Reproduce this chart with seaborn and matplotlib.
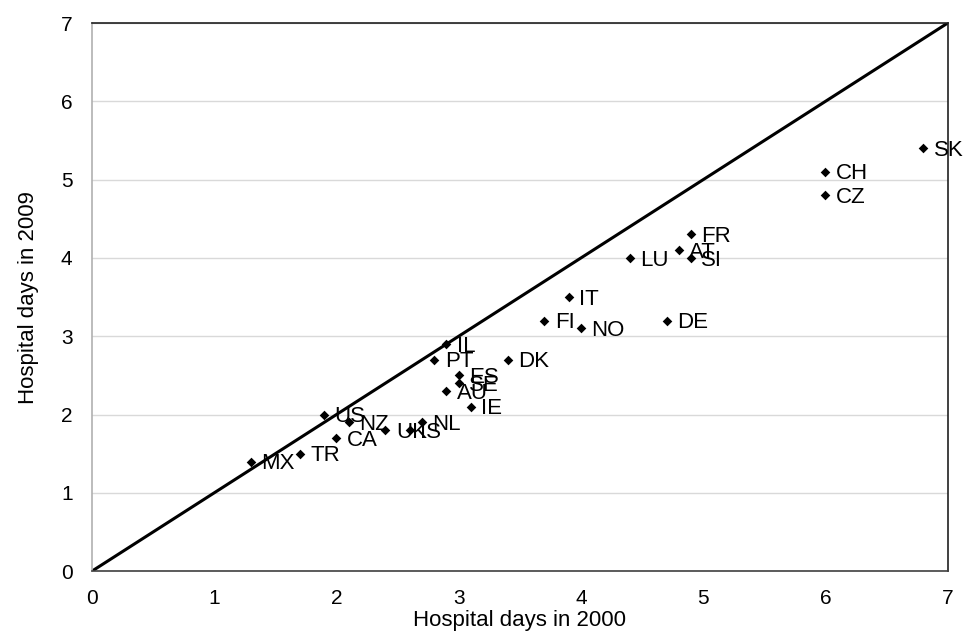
import matplotlib
matplotlib.use('Agg')
import matplotlib.pyplot as plt
import seaborn as sns
import pandas as pd

# Datos
paises = ['MX', 'TR', 'US', 'NZ', 'CA', 'UK', 'IS', 'NL', 'IL', 'PT', 'ES', 'SE',
          'AU', 'IE', 'DK', 'FI', 'IT', 'NO', 'LU', 'DE', 'AT', 'FR', 'SI', 'CH',
          'CZ', 'SK']
dias_2000 = [1.3, 1.7, 1.9, 2.1, 2.0, 2.4, 2.6, 2.7, 2.9, 2.8, 3.0, 3.0,
             2.9, 3.1, 3.4, 3.7, 3.9, 4.0, 4.4, 4.7, 4.8, 4.9, 4.9, 6.0,
             6.0, 6.8]
dias_2009 = [1.4, 1.5, 2.0, 1.9, 1.7, 1.8, 1.8, 1.9, 2.9, 2.7, 2.5, 2.4,
             2.3, 2.1, 2.7, 3.2, 3.5, 3.1, 4.0, 3.2, 4.1, 4.3, 4.0, 5.1,
             4.8, 5.4]
ticks = [0, 1, 2, 3, 4, 5, 6, 7]

df = pd.DataFrame({'pais': paises, 'x2000': dias_2000, 'y2009': dias_2009})

sns.set_style('white')
plt.rcParams['font.family'] = ['Liberation Sans', 'DejaVu Sans']

fig, ax = plt.subplots(figsize=(9.68, 6.41), dpi=100)
fig.subplots_adjust(left=0.095, right=0.979, top=0.964, bottom=0.109)

# Linea de 45 grados
ax.plot([ticks[0], ticks[-1]], [ticks[0], ticks[-1]], color='black', lw=2.2, zorder=2)

sns.scatterplot(data=df, x='x2000', y='y2009', marker='D', s=24, color='black',
                edgecolor='black', linewidth=0, ax=ax, zorder=3)

for _, fila in df.iterrows():
    ax.annotate(fila['pais'], (fila['x2000'], fila['y2009']), xytext=(7.5, -1.5),
                textcoords='offset points', ha='left', va='center', fontsize=16,
                color='black')

ax.set_xlim(ticks[0], ticks[-1])
ax.set_ylim(ticks[0], ticks[-1])
ax.set_xticks(ticks)
ax.set_yticks(ticks)
ax.yaxis.grid(True, color='#d9d9d9', lw=1)
ax.xaxis.grid(False)
ax.set_axisbelow(True)
ax.tick_params(axis='both', labelsize=15, length=0, colors='black')
ax.tick_params(axis='y', pad=14)
ax.tick_params(axis='x', pad=13)

ax.spines['left'].set_color('#b0b0b0')
ax.spines['bottom'].set_color('#404040')
ax.spines['top'].set_color('#202020')
ax.spines['right'].set_color('#202020')
for sp in ax.spines.values():
    sp.set_linewidth(1.2)

ax.set_xlabel('Hospital days in 2000', fontsize=16, labelpad=1, color='black')
ax.set_ylabel('Hospital days in 2009', fontsize=16, labelpad=16, color='black')

plt.savefig('out.png', dpi=100)
plt.close()
